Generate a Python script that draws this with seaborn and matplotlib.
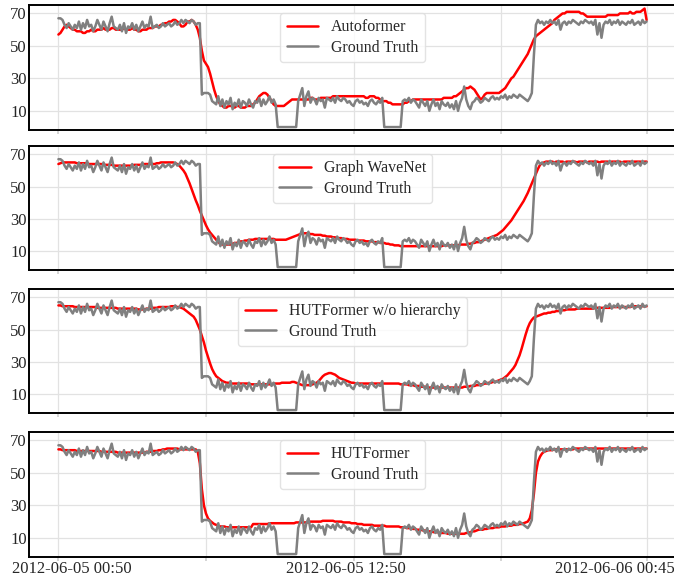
import matplotlib

matplotlib.use("Agg")
import matplotlib.pyplot as plt
import numpy as np
import seaborn as sns


GROUND_TRUTH = [
    67, 67, 66, 63, 61, 64, 62, 60, 63, 61,
    65, 60, 64, 61, 66, 62, 63, 59, 62, 66,
    63, 60, 65, 62, 59, 64, 68, 62, 61, 60,
    63, 59, 64, 58, 62, 61, 64, 60, 63, 59,
    62, 65, 61, 63, 62, 68, 61, 62, 63, 61,
    62, 64, 62, 63, 64, 62, 63, 65, 63, 64,
    66, 64, 66, 65, 64, 66, 65, 63, 64, 64,
    20, 21, 21, 21, 20, 16, 15, 14, 19, 13,
    17, 12, 16, 14, 18, 11, 15, 13, 17, 12,
    16, 15, 13, 17, 14, 12, 16, 15, 18, 13,
    17, 14, 16, 19, 15, 17, 14, 0, 0, 0,
    0, 0, 0, 0, 0, 0, 0, 16, 20, 24,
    13, 19, 22, 15, 18, 17, 14, 18, 16, 17,
    12, 18, 17, 16, 18, 15, 19, 17, 16, 18,
    17, 15, 16, 14, 13, 16, 17, 15, 16, 14,
    15, 13, 16, 17, 15, 14, 16, 15, 18, 0,
    0, 0, 0, 0, 0, 0, 0, 0, 16, 17,
    16, 18, 15, 17, 16, 14, 12, 17, 15, 13,
    16, 10, 14, 17, 13, 15, 11, 16, 14, 13,
    15, 12, 14, 11, 16, 10, 15, 18, 25, 17,
    13, 11, 15, 16, 18, 17, 15, 16, 18, 17,
    16, 18, 19, 17, 18, 17, 19, 18, 20, 17,
    19, 18, 20, 19, 18, 20, 19, 18, 17, 16,
    18, 21, 44, 63, 66, 64, 65, 63, 65, 64,
    66, 64, 65, 63, 66, 60, 64, 65, 63, 65,
    64, 66, 65, 64, 63, 65, 64, 66, 65, 64,
    65, 63, 66, 57, 64, 55, 63, 65, 64, 66,
    63, 65, 64, 66, 63, 65, 64, 63, 65, 64,
    66, 63, 64, 65, 63, 66, 64, 65,
]

AUTOFORMER = [
    57, 58, 60, 62, 63, 62, 61, 60, 60, 59,
    59, 59, 58, 58, 59, 59, 60, 59, 59, 60,
    60, 60, 61, 60, 60, 60, 61, 61, 60, 60,
    60, 60, 61, 60, 60, 60, 61, 60, 60, 59,
    59, 60, 60, 60, 61, 61, 61, 62, 62, 62,
    63, 63, 64, 64, 65, 65, 66, 66, 65, 64,
    62, 62, 63, 65, 65, 66, 65, 63, 60, 55,
    47, 41, 39, 37, 33, 28, 23, 19, 16, 14,
    13, 12, 12, 13, 13, 13, 12, 13, 13, 12,
    12, 12, 13, 13, 13, 14, 15, 17, 19, 20,
    21, 21, 20, 18, 16, 14, 13, 13, 13, 13,
    13, 14, 15, 16, 17, 17, 17, 17, 17, 17,
    17, 17, 17, 18, 18, 17, 17, 17, 18, 18,
    18, 18, 18, 18, 19, 19, 19, 19, 19, 19,
    19, 19, 19, 19, 19, 19, 19, 19, 19, 19,
    18, 18, 19, 19, 19, 18, 18, 17, 16, 16,
    16, 15, 15, 14, 14, 14, 14, 14, 14, 15,
    15, 16, 16, 17, 17, 17, 17, 17, 17, 17,
    17, 17, 17, 17, 17, 17, 17, 17, 18, 18,
    18, 18, 18, 19, 19, 20, 21, 22, 23, 24,
    24, 25, 24, 23, 21, 19, 17, 18, 20, 21,
    21, 21, 21, 21, 21, 21, 22, 23, 24, 26,
    28, 30, 31, 33, 35, 37, 39, 41, 43, 45,
    48, 51, 54, 56, 57, 58, 59, 60, 61, 62,
    63, 64, 66, 67, 68, 69, 70, 70, 71, 71,
    71, 71, 71, 71, 71, 70, 70, 69, 68, 68,
    68, 68, 68, 68, 68, 68, 68, 68, 69, 69,
    69, 69, 69, 69, 70, 70, 70, 70, 70, 71,
    70, 70, 71, 71, 71, 72, 73, 66,
]

GRAPH_WAVENET = [
    64, 64.5, 65, 65, 65, 65, 65, 65, 65, 64.5,
    64.5, 64.5, 64.5, 64.5, 64.5, 64, 64, 64, 64, 64,
    64, 64, 63.5, 63.5, 63.5, 63.5, 63.5, 63, 63, 63,
    63, 63, 63, 63, 63, 63, 63, 63.5, 63.5, 63.5,
    63.5, 63.5, 64, 64, 64, 64, 64, 64, 64.5, 64.5,
    65, 65, 65, 65, 65, 65, 65, 64.5, 64, 63,
    61.5, 60, 58, 55, 52, 48.5, 45, 41.5, 38.5, 35,
    32, 29, 26, 23.5, 21.5, 20, 18.5, 17, 15.5, 14.5,
    14, 14, 14, 14, 14, 14.5, 15, 15, 15.5, 16,
    16, 16.5, 16.5, 17, 17, 17, 17.5, 17.5, 17.5, 17.5,
    17.5, 17.5, 17.5, 17.5, 17.5, 17.5, 17, 17, 17, 17,
    17, 17, 17.5, 18, 18.5, 19, 19.5, 20, 20.5, 21,
    21, 21, 21, 20.5, 20.5, 20, 20, 20, 20, 19.5,
    19.5, 19, 19, 19, 18.5, 18.5, 18, 18, 18, 17.5,
    17.5, 17.5, 17, 17, 17, 17, 16.5, 16.5, 16.5, 16.5,
    16, 16, 16, 16, 15.5, 15.5, 15.5, 15, 15, 15,
    14.5, 14.5, 14, 14, 13.5, 13.5, 13.5, 13, 13, 13,
    13, 13, 13, 13, 13, 13, 13, 13, 13, 13,
    13, 13, 13, 13, 13, 13, 13, 13, 13.5, 13.5,
    13.5, 13.5, 13.5, 13.5, 13.5, 13.5, 14, 14, 14, 14,
    14.5, 14.5, 15, 15, 15.5, 15.5, 16, 16.5, 17, 17.5,
    18, 18.5, 19, 19.5, 20, 21, 22, 23, 24.5, 26,
    27.5, 29, 31, 33, 35, 37, 39, 41, 43.5, 46,
    49, 52, 55, 58, 61, 63.5, 64.5, 65, 65.5, 65.5,
    65.5, 65.5, 65, 65.5, 65.5, 65.5, 65.5, 65, 65.5, 65.5,
    65.5, 65.5, 65.5, 65, 65.5, 65.5, 65.5, 65.5, 65, 65.5,
    65.5, 65.5, 65.5, 65.5, 65, 65.5, 65.5, 65.5, 65.5, 65,
    65.5, 65.5, 65.5, 65.5, 65.5, 65, 65.5, 65.5, 65.5, 65.5,
    65, 65.5, 65.5, 65.5, 65.5, 65, 65.5, 65.5,
]

HUTFORMER_NO_HIER = [
    65, 65, 64.5, 64.5, 64.5, 64.5, 64.5, 64.5, 64, 64,
    64, 64, 64, 64, 64, 64, 64, 64, 64, 63.5,
    63.5, 63.5, 63.5, 63.5, 63.5, 63.5, 63.5, 63.5, 63.5, 63,
    63, 63, 63, 63, 63, 63, 63, 63, 63, 62.5,
    62.5, 62.5, 62.5, 63, 63, 63, 63.5, 63.5, 63.5, 64,
    64, 64, 64, 64, 64, 64.5, 64.5, 64.5, 64, 64,
    63.5, 63, 62, 61, 60, 59, 58, 56, 53, 50,
    46, 42, 37, 33, 29, 25.5, 23, 21, 20, 19,
    18, 17.5, 17, 17, 16.5, 16.5, 16.5, 16.5, 16.5, 16.5,
    16.5, 16.5, 16.5, 16.5, 16, 16, 16, 16, 16, 16,
    16, 16, 16, 16, 16, 16.5, 16.5, 16.5, 16.5, 17,
    17, 17, 17, 17, 17.5, 17.5, 17, 16.5, 16, 15.5,
    15.5, 15.5, 15.5, 15.5, 16, 16.5, 17, 18, 19.5, 21,
    22, 22.5, 23, 23, 22.5, 22, 21, 20, 19.5, 19,
    18.5, 18, 17.5, 17, 17, 16.5, 16.5, 16.5, 16.5, 16.5,
    16.5, 16.5, 16.5, 16.5, 16.5, 16.5, 16.5, 16.5, 16.5, 16.5,
    16.5, 16.5, 16.5, 16.5, 16.5, 16.5, 16.5, 16, 16, 16,
    16, 15.5, 15.5, 15.5, 15, 15, 15, 14.5, 14.5, 14.5,
    14, 14, 14, 14, 14, 14, 14, 14, 14, 14,
    14, 14, 14, 14, 14, 14, 14, 14, 14.5, 14.5,
    14.5, 15, 15, 15, 15.5, 15.5, 16, 16, 16.5, 16.5,
    17, 17, 17.5, 17.5, 18, 18.5, 19, 19.5, 20.5, 21.5,
    23, 24.5, 26, 28, 31, 34, 38, 42.5, 47, 51,
    54, 56, 57.5, 58, 58.5, 59, 59.5, 60, 60, 60.5,
    60.5, 61, 61, 61.5, 61.5, 62, 62, 62, 62.5, 62.5,
    62.5, 62.5, 62.5, 63, 63, 63, 63, 63, 63, 63,
    63, 63, 63.5, 63.5, 63.5, 63.5, 63.5, 63.5, 63.5, 63.5,
    64, 64, 64, 64, 64, 64, 64, 64, 64, 64,
    64.5, 64.5, 64.5, 64.5, 64.5, 64.5, 64.5, 64.5,
]

HUTFORMER = [
    64.5, 64.5, 64, 64, 64, 64, 64, 64, 64, 63.5,
    63.5, 63.5, 63.5, 63.5, 63.5, 63.5, 63.5, 63.5, 63.5, 63.5,
    63.5, 63, 63, 63, 63, 63, 63, 63, 63, 62.5,
    62.5, 62.5, 62.5, 62.5, 62.5, 62.5, 62.5, 62.5, 62.5, 62.5,
    62.5, 62.5, 62.5, 63, 63, 63, 63.5, 63.5, 63.5, 64,
    64, 64.5, 64.5, 65, 65, 65, 65, 65, 65, 64.5,
    64.5, 64.5, 64.5, 64.5, 64.5, 64.5, 64.5, 64.5, 63, 56,
    40, 30, 25, 22, 20.5, 19.5, 18.5, 18, 17.5, 17,
    17, 17, 16.5, 16.5, 16.5, 16.5, 16.5, 16.5, 16.5, 16.5,
    16.5, 16.5, 16.5, 16.5, 16.5, 18.5, 18.5, 18.5, 18.5, 18.5,
    18.5, 18.5, 18.5, 19, 19, 19, 19, 19, 19, 19,
    19, 19, 19, 19, 19, 19, 19.5, 19.5, 19.5, 19.5,
    19.5, 19.5, 19.5, 20, 20, 20, 20, 20, 20, 20.5,
    20.5, 20.5, 20.5, 20.5, 20.5, 20, 20, 20, 20, 19.5,
    19.5, 19.5, 19.5, 19, 19, 19, 18.5, 18.5, 18.5, 18,
    18, 18, 18, 18, 17.5, 17.5, 17.5, 17.5, 17.5, 17.5,
    17, 17, 17, 17, 17, 17, 17, 16.5, 16.5, 16.5,
    16, 16, 16, 15.5, 15.5, 15, 15, 15, 14.5, 14.5,
    14, 14, 14, 13.5, 13.5, 13.5, 13, 13, 13, 13,
    12.5, 12.5, 12.5, 12.5, 12.5, 12.5, 12.5, 12.5, 12.5, 13,
    13, 13.5, 14, 14, 14.5, 15, 15, 15, 15.5, 15.5,
    16, 16, 16, 16.5, 16.5, 16.5, 17, 17, 17, 17.5,
    17.5, 17.5, 18, 18, 18, 18.5, 18.5, 19, 19.5, 20,
    22, 27, 37, 50, 57, 60, 62, 63, 63.5, 64,
    64, 64, 64.5, 64.5, 64.5, 64.5, 64.5, 64.5, 64.5, 64.5,
    64.5, 64.5, 65, 65, 65, 65, 65, 65, 65, 65,
    65, 65, 65, 65, 65, 65, 65, 65, 65, 65,
    65, 65, 65, 65, 65, 65, 65, 65, 65, 65,
    65, 65, 65, 65, 65, 65, 65, 65,
]

MODELS = ["Autoformer", "Graph WaveNet", "HUTFormer w/o hierarchy", "HUTFormer"]
PREDICTIONS = [AUTOFORMER, GRAPH_WAVENET, HUTFORMER_NO_HIER, HUTFORMER]

GRID_TICKS = [0, 72, 144, 216, 287]
LABEL_POS = [6.3, 140.3, 271.3]
LABEL_TEXT = ["2012-06-05 00:50", "2012-06-05 12:50", "2012-06-06 00:45"]
Y_TICKS = [10, 30, 50, 70]

# axes boxes in figure pixels: (top, bottom)
PANEL_ROWS = [(5, 130), (146, 270), (289, 413), (432, 557)]


def style_axis(ax, show_labels: bool) -> None:
    ax.set_xlim(-14.35, 301.35)
    ax.set_ylim(-1.8, 75.2)
    ax.set_yticks(Y_TICKS)
    ax.set_xticks(GRID_TICKS)
    ax.set_xticklabels([])
    ax.grid(True, which="major", color="#e2e2e2", linewidth=0.9)
    ax.tick_params(axis="x", which="major", length=3, color="#d0d0d0", bottom=True)
    ax.tick_params(axis="y", length=0, pad=1.5, labelsize=12)
    if show_labels:
        ax.set_xticks(LABEL_POS, minor=True)
        ax.set_xticklabels(LABEL_TEXT, minor=True)
        ax.tick_params(axis="x", which="minor", length=0, pad=3, labelsize=12)
    for side in ["top", "left", "bottom"]:
        ax.spines[side].set_color("black")
        ax.spines[side].set_linewidth(1.4)
    ax.spines["right"].set_visible(False)
    ax.set_xlabel("")
    ax.set_ylabel("")


def main() -> None:
    sns.set_theme(style="whitegrid")
    plt.rcParams["font.family"] = ["Liberation Serif", "DejaVu Serif"]

    steps = np.arange(len(GROUND_TRUTH))
    fig = plt.figure(figsize=(6.74, 5.78), dpi=100)
    W, H = 674, 578
    for k, (name, pred) in enumerate(zip(MODELS, PREDICTIONS)):
        top, bottom = PANEL_ROWS[k]
        ax = fig.add_axes([29 / W, 1 - bottom / H, 647 / W, (bottom - top) / H])
        sns.lineplot(x=steps, y=pred, ax=ax, color="red", linewidth=1.8, label=name)
        sns.lineplot(x=steps, y=GROUND_TRUTH, ax=ax, color="gray", linewidth=1.8,
                     label="Ground Truth")
        style_axis(ax, show_labels=(k == len(MODELS) - 1))
        ax.legend(loc="upper center", fontsize=11.4, labelspacing=0.3,
                  frameon=True, framealpha=0.8, edgecolor="#dddddd")

    fig.savefig("out.png", dpi=100)
    plt.close(fig)


if __name__ == "__main__":
    main()
